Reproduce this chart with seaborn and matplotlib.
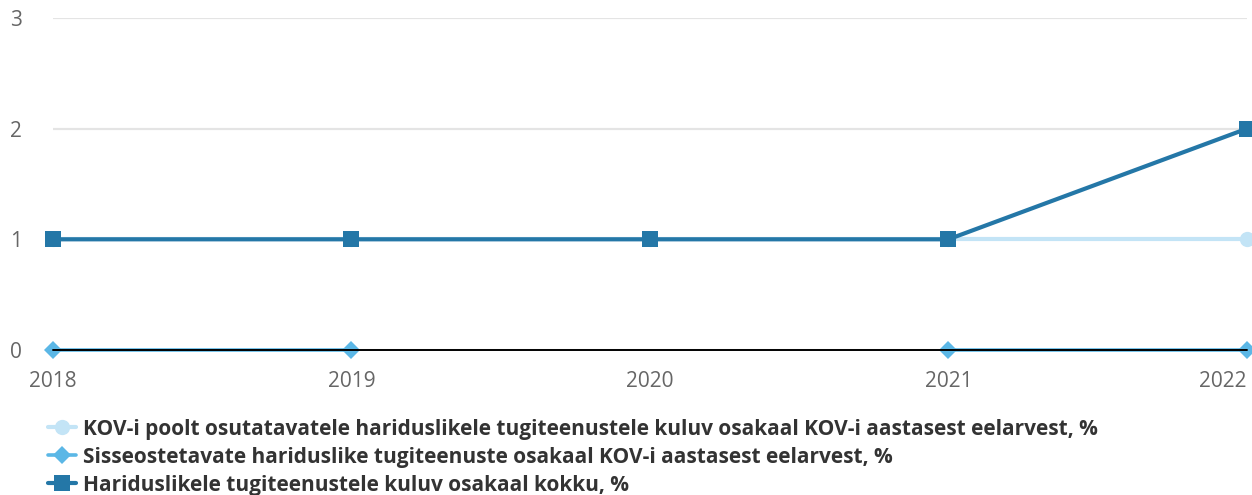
import numpy as np
import pandas as pd
import matplotlib
matplotlib.use("Agg")
import matplotlib.pyplot as plt
from matplotlib.lines import Line2D
import seaborn as sns

years = [2018, 2019, 2020, 2021, 2022]
kov_own = [1, 1, 1, 1, 1]
purchased = [0, 0, np.nan, 0, 0]
total = [1, 1, 1, 1, 2]

labels = [
    "KOV-i poolt osutatavatele hariduslikele tugiteenustele kuluv osakaal KOV-i aastasest eelarvest, %",
    "Sisseostetavate hariduslike tugiteenuste osakaal KOV-i aastasest eelarvest, %",
    "Hariduslikele tugiteenustele kuluv osakaal kokku, %",
]
colors = ["#c3e4f6", "#5bb7e6", "#2477a7"]
markers = ["o", "D", "s"]
msizes = [11, 9.5, 12]
lwidths = [3.0, 2.6, 3.0]

sns.set_theme(style="white")
plt.rcParams["font.family"] = ["Open Sans", "DejaVu Sans"]

fig = plt.figure(figsize=(12.52, 4.95), dpi=100)
ax = fig.add_axes([0.0423, 0.293, 0.9537, 0.6707])

for i, values in enumerate([kov_own, purchased, total]):
    df = pd.DataFrame({"year": years, "value": values})
    # separate runs of present values so gaps break the line
    df["segment"] = df["value"].isna().cumsum()
    df = df.dropna()
    sns.lineplot(
        data=df, x="year", y="value", units="segment", estimator=None,
        color=colors[i], linewidth=lwidths[i], marker=markers[i],
        markersize=msizes[i], markeredgewidth=0, ax=ax, clip_on=False,
        zorder=3 + i,
    )

ax.axhline(0, color="black", linewidth=1.4, zorder=10, clip_on=False)

ax.set_xlim(2018, 2022)
ax.set_ylim(0, 3)
ax.set_xticks(years)
ax.set_yticks([0, 1, 2, 3])
ax.set_xlabel("")
ax.set_ylabel("")
for s in ax.spines.values():
    s.set_visible(False)
ax.grid(axis="y", color="#e4e4e4", linewidth=1.6)
ax.grid(axis="x", visible=False)
ax.tick_params(axis="both", length=0, labelsize=15, labelcolor="#666666")
ax.tick_params(axis="y", pad=0)
ax.tick_params(axis="x", pad=15)
for lab in ax.get_yticklabels():
    lab.set_horizontalalignment("left")
    lab.set_x(-0.036)
ax.get_xticklabels()[-1].set_horizontalalignment("right")

handles = [
    Line2D([0], [0], color=colors[i], linewidth=lwidths[i], marker=markers[i],
           markersize=msizes[i], markeredgewidth=0)
    for i in range(3)
]
fig.legend(
    handles, labels, loc="upper left", bbox_to_anchor=(0.038, 0.154),
    frameon=False, prop={"weight": "bold", "size": 15},
    labelcolor="#333333", handlelength=1.35, handletextpad=0.34,
    labelspacing=0.33, borderaxespad=0, borderpad=0,
)

fig.savefig("out.png", dpi=100)
